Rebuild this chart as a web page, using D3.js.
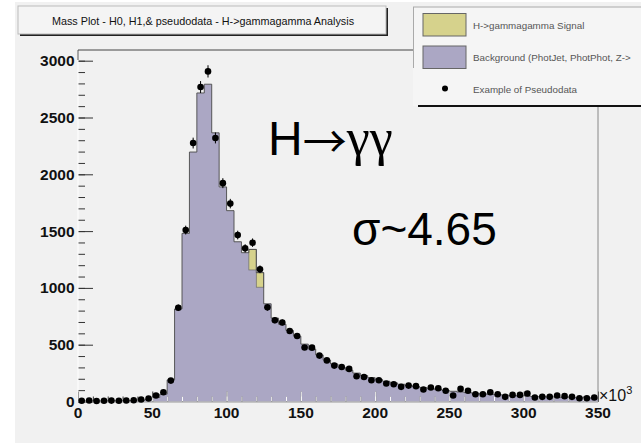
<!DOCTYPE html>
<html>
<head>
<meta charset="utf-8">
<script src="https://cdn.jsdelivr.net/npm/d3@7/dist/d3.min.js"></script>
<style>
  html, body { margin: 0; padding: 0; background: #fff; }
  svg { display: block; font-family: "Liberation Sans", Arial, sans-serif; }
</style>
</head>
<body>
<svg width="641" height="443"></svg>
<script>
// bins of 5 (x10^3), 0 .. 350
const binWidth = 5;
const background = [
  4, 4, 5, 5, 6, 6, 7, 8, 10, 18,
  35, 65, 190, 815, 1480, 2196, 2716, 2793, 2365, 1889,
  1680, 1406, 1310, 1158, 1006, 860, 734, 680, 625, 575,
  505, 462, 410, 365, 330, 300, 275, 250, 228, 210,
  194, 178, 164, 152, 141, 131, 122, 113, 105, 97,
  90, 84, 78, 72, 68, 64, 60, 56, 53, 50,
  47, 44, 42, 40, 38, 36, 35, 33, 32, 30
];
const signal = [
  0, 0, 0, 0, 0, 0, 0, 0, 0, 0,
  0, 0, 0, 0, 0, 0, 0, 0, 0, 0,
  0, 0, 0, 181, 128, 0, 0, 0, 0, 0,
  0, 0, 0, 0, 0, 0, 0, 0, 0, 0,
  0, 0, 0, 0, 0, 0, 0, 0, 0, 0,
  0, 0, 0, 0, 0, 0, 0, 0, 0, 0,
  0, 0, 0, 0, 0, 0, 0, 0, 0, 0
];
const pseudodata = [
  6, 9, 5, 7, 8, 6, 9, 11, 18, 26,
  53, 82, 184, 825, 1509, 2275, 2768, 2906, 2320, 1922,
  1742, 1465, 1348, 1398, 1164, 829, 715, 696, 620, 577,
  476, 474, 404, 362, 316, 304, 287, 222, 216, 187,
  187, 158, 152, 129, 140, 135, 105, 123, 117, 94,
  53, 111, 94, 64, 64, 82, 64, 41, 58, 58,
  70, 35, 41, 41, 53, 47, 41, 29, 29, 35
];
const xMajor = [0, 50, 100, 150, 200, 250, 300, 350];
const yMajor = [0, 500, 1000, 1500, 2000, 2500, 3000];
const titleText = "Mass Plot - H0, H1,& pseudodata - H->gammagamma Analysis";
const legendLabels = ["H->gammagamma Signal", "Background (PhotJet, PhotPhot, Z->", "Example of Pseudodata"];

const colSignal = "#d6d28c";
const colBkg = "#aba7c4";

const svg = d3.select("svg");
const x = d3.scaleLinear().domain([0, 350]).range([78, 598]);
const y = d3.scaleLinear().domain([0, 3000]).range([401.5, 60.7]);

const bins = background.map((b, i) => ({
  lo: i * binWidth, hi: (i + 1) * binWidth,
  bkg: b, sig: signal[i], data: pseudodata[i]
}));

// canvas
svg.append("rect").attr("x", 15).attr("y", 2).attr("width", 626).attr("height", 441).attr("fill", "#f1f1f1");

// step points helper
const steps = (f) => bins.flatMap((d) => [[d.lo, f(d)], [d.hi, f(d)]]);
const area = d3.area().x((p) => x(p[0])).y0(y(0)).y1((p) => y(p[1]));
const line = d3.line().x((p) => x(p[0])).y((p) => y(p[1]));

const bkgPts = steps((d) => d.bkg);
const totPts = steps((d) => d.bkg + d.sig);

svg.append("defs").append("clipPath").attr("id", "histClip")
  .append("path").attr("d", area(totPts));

// background histogram
svg.append("path").attr("d", area(bkgPts)).attr("fill", colBkg);

// signal stacked on top
svg.selectAll(".sig")
  .data(bins.filter((d) => d.sig > 0))
  .join("rect")
  .attr("class", "sig")
  .attr("x", (d) => x(d.lo))
  .attr("width", (d) => x(d.hi) - x(d.lo))
  .attr("y", (d) => y(d.bkg + d.sig))
  .attr("height", (d) => y(d.bkg) - y(d.bkg + d.sig))
  .attr("fill", colSignal)
  .attr("stroke", "#666").attr("stroke-width", 0.7);

// outline
svg.append("path").attr("d", line(totPts))
  .attr("fill", "none").attr("stroke", "#4a4a4a").attr("stroke-width", 0.9);

// axes
const drawAxes = (g, col) => {
  const xa = g.append("g").attr("transform", `translate(0,${y(0)})`);
  xa.append("g").call(d3.axisBottom(x).tickValues(d3.range(0, 351, 10)).tickSize(-5).tickFormat(""));
  xa.append("g").call(d3.axisBottom(x).tickValues(xMajor).tickSize(-10).tickFormat(""));
  const ya = g.append("g").attr("transform", `translate(${x(0)},0)`);
  ya.append("g").call(d3.axisLeft(y).tickValues(d3.range(0, 3001, 100)).tickSize(-7).tickFormat(""));
  ya.append("g").call(d3.axisLeft(y).tickValues(yMajor).tickSize(-15).tickFormat(""));
  g.selectAll(".domain").remove();
  g.selectAll("line").attr("stroke", col);
};
drawAxes(svg.append("g"), "#333");
drawAxes(svg.append("g").attr("clip-path", "url(#histClip)"), "#fafafa");

// axis lines
svg.append("line").attr("x1", x(0)).attr("x2", x(0)).attr("y1", 50).attr("y2", y(0)).attr("stroke", "#fff");
svg.append("line").attr("x1", x(0)).attr("x2", x(0)).attr("y1", 50).attr("y2", 60).attr("stroke", "#555");
svg.append("line").attr("x1", x(0)).attr("x2", 420).attr("y1", 50).attr("y2", 50).attr("stroke", "#444");
svg.append("line").attr("x1", x(0)).attr("x2", x(350)).attr("y1", y(0) + 0.5).attr("y2", y(0) + 0.5).attr("stroke", "#999");
svg.append("line").attr("x1", x(350)).attr("x2", x(350)).attr("y1", 106).attr("y2", y(0)).attr("stroke", "#888");

// tick labels
svg.append("g").selectAll("text").data(xMajor).join("text")
  .attr("x", (d) => x(d)).attr("y", 418)
  .attr("text-anchor", "middle").attr("font-size", 15.5).attr("font-weight", "bold").attr("fill", "#111")
  .text((d) => d);
svg.append("g").selectAll("text").data(yMajor).join("text")
  .attr("x", 74.5).attr("y", (d) => y(d) + 5.5)
  .attr("text-anchor", "end").attr("font-size", 15.5).attr("font-weight", "bold").attr("fill", "#111")
  .text((d) => d);
const mult = svg.append("text").attr("x", 599).attr("y", 401).attr("font-size", 16).attr("fill", "#111");
mult.append("tspan").text("\u00d710");
mult.append("tspan").attr("dy", -7).attr("font-size", 11).text("3");

// pseudodata points with error bars
const pts = svg.append("g");
pts.selectAll("line").data(bins).join("line")
  .attr("x1", (d) => x((d.lo + d.hi) / 2)).attr("x2", (d) => x((d.lo + d.hi) / 2))
  .attr("y1", (d) => y(d.data + Math.sqrt(d.data))).attr("y2", (d) => y(Math.max(0, d.data - Math.sqrt(d.data))))
  .attr("stroke", "#000").attr("stroke-width", 1);
pts.selectAll("circle").data(bins).join("circle")
  .attr("cx", (d) => x((d.lo + d.hi) / 2)).attr("cy", (d) => y(d.data))
  .attr("r", 3.3).attr("fill", "#000");

// annotations
const hgg = svg.append("text").attr("x", 268).attr("y", 155).attr("font-size", 48).attr("fill", "#000");
hgg.append("tspan").text("H");
hgg.append("tspan").attr("font-family", "Noto Sans CJK JP").attr("font-size", 44).attr("dy", 3).text("\u2192");
hgg.append("tspan").attr("font-family", "Liberation Serif").attr("font-size", 52).attr("dy", -3).text("\u03b3\u03b3");
svg.append("text").attr("x", 352).attr("y", 245).attr("font-size", 46).attr("fill", "#000").text("\u03c3~4.65");

// title box
const tb = svg.append("g");
tb.append("rect").attr("x", 20).attr("y", 8).attr("width", 368).attr("height", 28).attr("fill", "#222");
tb.append("rect").attr("x", 18).attr("y", 6).attr("width", 368).attr("height", 28).attr("fill", "#f4f4f4").attr("stroke", "#bbb").attr("stroke-width", 1);
tb.append("text").attr("x", 203).attr("y", 25).attr("text-anchor", "middle").attr("font-size", 10.8).attr("fill", "#111").text(titleText);

// legend
const lg = svg.append("g");
lg.append("rect").attr("x", 413).attr("y", 7).attr("width", 240).attr("height", 99).attr("fill", "#f5f5f5");
lg.append("line").attr("x1", 413).attr("x2", 641).attr("y1", 7).attr("y2", 7).attr("stroke", "#aaa");
lg.append("line").attr("x1", 413.5).attr("x2", 413.5).attr("y1", 7).attr("y2", 68).attr("stroke", "#aaa");
lg.append("line").attr("x1", 418).attr("x2", 641).attr("y1", 106).attr("y2", 106).attr("stroke", "#111").attr("stroke-width", 2);
const swatches = [colSignal, colBkg];
lg.selectAll(".sw").data(swatches).join("rect").attr("class", "sw")
  .attr("x", 423).attr("y", (d, i) => 13.5 + i * 32.5).attr("width", 43).attr("height", 22.5)
  .attr("fill", (d) => d).attr("stroke", "#666").attr("stroke-width", 1);
lg.append("circle").attr("cx", 445).attr("cy", 88.5).attr("r", 3).attr("fill", "#000");
lg.selectAll(".lt").data(legendLabels).join("text").attr("class", "lt")
  .attr("x", 473).attr("y", (d, i) => 28.5 + i * 32)
  .attr("font-size", 9.8).attr("fill", "#555")
  .text((d) => d);
</script>
</body>
</html>
